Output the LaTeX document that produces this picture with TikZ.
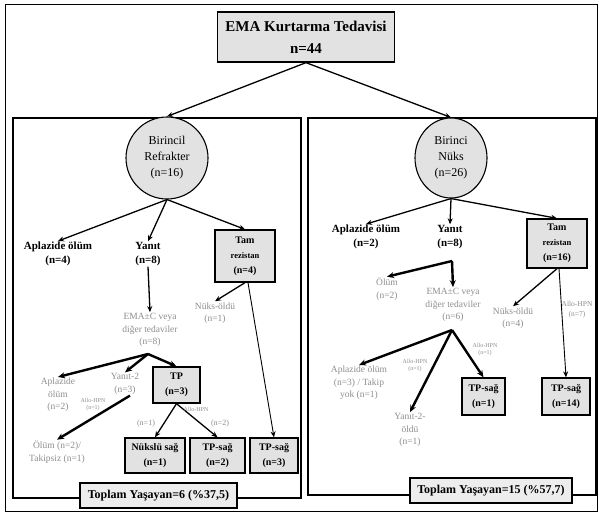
\documentclass[tikz,border=0pt]{standalone}
\usepackage{fontspec}
\setmainfont{Liberation Serif}
\usetikzlibrary{arrows.meta,shapes.geometric}
\definecolor{boxgray}{HTML}{E2E2E2}
\definecolor{sumgray}{HTML}{EDEDED}
\definecolor{txtgray}{HTML}{8E8E8E}
\begin{document}
\begin{tikzpicture}[x=1pt,y=-1pt,
  arr/.style={line width=1.3pt,-{Stealth[length=6pt,width=5pt]}},
  thinarr/.style={line width=0.9pt,-{Stealth[length=6pt,width=5pt]}},
  tarr/.style={line width=2.4pt,-{Stealth[length=7pt,width=6pt]}},
  lbl/.style={font=\fontsize{11}{13.5}\selectfont\bfseries,align=center,inner sep=1pt},
  gtxt/.style={font=\fontsize{9.5}{12.5}\selectfont,text=txtgray,align=center,inner sep=1pt},
  tinytxt/.style={font=\fontsize{6}{7}\selectfont,text=txtgray,align=center,inner sep=0.5pt},
  gbox/.style={draw,line width=1.3pt,fill=boxgray,align=center,inner sep=0pt,font=\fontsize{10}{15}\selectfont\bfseries},
  sumbox/.style={draw,line width=1.3pt,fill=sumgray,align=center,inner sep=0pt,font=\fontsize{12}{14}\selectfont\bfseries,minimum height=25pt},
  circ/.style={draw,line width=1.1pt,fill=boxgray,align=center,inner sep=0pt,font=\fontsize{12}{16}\selectfont},
]
\useasboundingbox (0,0) rectangle (599,514);
\fill[white] (0,0) rectangle (599,514);
% frames
\draw[line width=0.8pt] (5,4) rectangle (597,511);
\draw[line width=1.2pt] (13,118) rectangle (301,498);
\draw[line width=1.2pt] (308,118) rectangle (596,495);

% top
\node[gbox,minimum width=177pt,minimum height=50pt,font=\fontsize{15}{22}\selectfont\bfseries] (top) at (306,37) {EMA Kurtarma Tedavisi\\n=44};
\node[circ,circle,minimum size=82pt] (c1) at (167,158) {Birincil\\Refrakter\\(n=16)};
\node[circ,ellipse,minimum width=72pt,minimum height=80pt] (c2) at (451,158) {Birinci\\Nüks\\(n=26)};
\draw[arr] (top.south) -- (c1.north);
\draw[arr] (top.south) -- (c2.north);

% ---------- left panel ----------
\node[lbl] (ap1) at (58,254) {Aplazide ölüm\\(n=4)};
\node[lbl] (ya1) at (148,254) {Yanıt\\(n=8)};
\node[gbox,minimum width=60pt,minimum height=52pt] (tr1) at (245,256) {Tam\\{\fontsize{8.5}{15}\selectfont rezistan}\\(n=4)};
\draw[arr] (c1.south) -- (ap1.north);
\draw[arr] (c1.south) -- (ya1.north);
\draw[arr] (c1.south) -- (tr1.north);

\node[gtxt] (nd1) at (215,313) {Nüks-öldü\\(n=1)};
\node[gtxt] (ema1) at (150,330) {EMA±C veya\\diğer tedaviler\\(n=8)};
\draw[arr] (ya1.south) -- (ema1.north);
\draw[arr] (tr1.south) -- (nd1.north);

\node[gtxt] (ap2) at (58,395) {Aplazide\\ölüm\\(n=2)};
\node[gtxt] (ya2) at (125,384) {Yanıt-2\\(n=3)};
\node[gbox,minimum width=47pt,minimum height=36pt] (tp1) at (176.5,385) {TP\\(n=3)};
\coordinate (b1) at (148,354);
\draw[tarr] (b1) -- (ap2.north);
\draw[tarr] (b1) -- (ya2.north);
\draw[tarr] (b1) -- (tp1.north);

\node[gtxt] (ol1) at (57,452) {Ölüm (n=2)/\\Takipsiz (n=1)};
\draw[tarr] ([xshift=5pt]ya2.south) -- (ol1.north);
\node[tinytxt] (hl1) at (93,405) {Allo-HPN\\(n=1)};

\node[gbox,minimum width=60pt,minimum height=35pt] (ns1) at (155,455.5) {Nükslü sağ\\(n=1)};
\node[gbox,minimum width=55pt,minimum height=35pt] (tps2) at (217.5,455.5) {TP-sağ\\(n=2)};
\node[gbox,minimum width=48pt,minimum height=35pt] (tps1) at (274,455.5) {TP-sağ\\(n=3)};
\draw[arr] (tp1.south) -- (ns1.north);
\draw[arr] (tp1.south) -- (tps2.north);
\node[gtxt,font=\fontsize{8}{9}\selectfont] (nl1) at (146,424) {(n=1)};
\node[gtxt,font=\fontsize{8}{9}\selectfont] (nl2) at (220,424) {(n=2)};
\node[tinytxt] (hp1) at (196,409) {Allo-HPN};
\draw[thinarr] ([xshift=3pt]tr1.south) -- (tps1.north);

\node[sumbox,minimum width=157pt] (sum1) at (158.5,495.5) {Toplam Yaşayan=6 (\%37,5)};

% ---------- right panel ----------
\node[lbl] (ap3) at (366,237) {Aplazide ölüm\\(n=2)};
\node[lbl] (ya3) at (450,237) {Yanıt\\(n=8)};
\node[gbox,minimum width=60pt,minimum height=49pt] (tr2) at (557,243.5) {Tam\\{\fontsize{8.5}{15}\selectfont rezistan}\\(n=16)};
\draw[arr] (c2.south) -- (ap3.north);
\draw[arr] (c2.south) -- (ya3.north);
\draw[arr] (c2.south) -- (tr2.north);

\node[gtxt] (ol2) at (387,289) {Ölüm\\(n=2)};
\node[gtxt] (ema2) at (453,305) {EMA±C veya\\diğer tedaviler\\(n=6)};
\coordinate (b2) at (452,261);
\draw[tarr] (b2) -- (ol2.north);
\draw[tarr] (b2) -- (ema2.north);

\node[gtxt] (nd2) at (513,318) {Nüks-öldü\\(n=4)};
\draw[arr] (tr2.south) -- (nd2.north);
\node[gbox,minimum width=48pt,minimum height=37pt] (tps4) at (566,396.5) {TP-sağ\\(n=14)};
\draw[thinarr] ([xshift=2pt]tr2.south) -- (tps4.north);
\node[gtxt,font=\fontsize{7.5}{10}\selectfont] (hp2) at (577,310) {Allo-HPN\\(n=7)};

\node[gtxt] (ap4) at (359,383) {Aplazide ölüm\\(n=3) / Takip\\yok (n=1)};
\node[gtxt] (ya4) at (410,430) {Yanıt-2-\\öldü\\(n=1)};
\node[gbox,minimum width=43pt,minimum height=37pt] (tps3) at (483.5,396.5) {TP-sağ\\(n=1)};
\coordinate (b3) at (452,330);
\draw[tarr] (b3) -- (ap4.north);
\draw[tarr] (b3) -- (ya4.north);
\draw[tarr] (b3) -- (tps3.north);
\node[tinytxt] (hl2) at (415,366) {Allo-HPN\\(n=1)};
\node[tinytxt] (hl3) at (485,350) {Allo-HPN\\(n=1)};

\node[sumbox,minimum width=162pt] (sum2) at (491,490.5) {Toplam Yaşayan=15 (\%57,7)};
\end{tikzpicture}
\end{document}
